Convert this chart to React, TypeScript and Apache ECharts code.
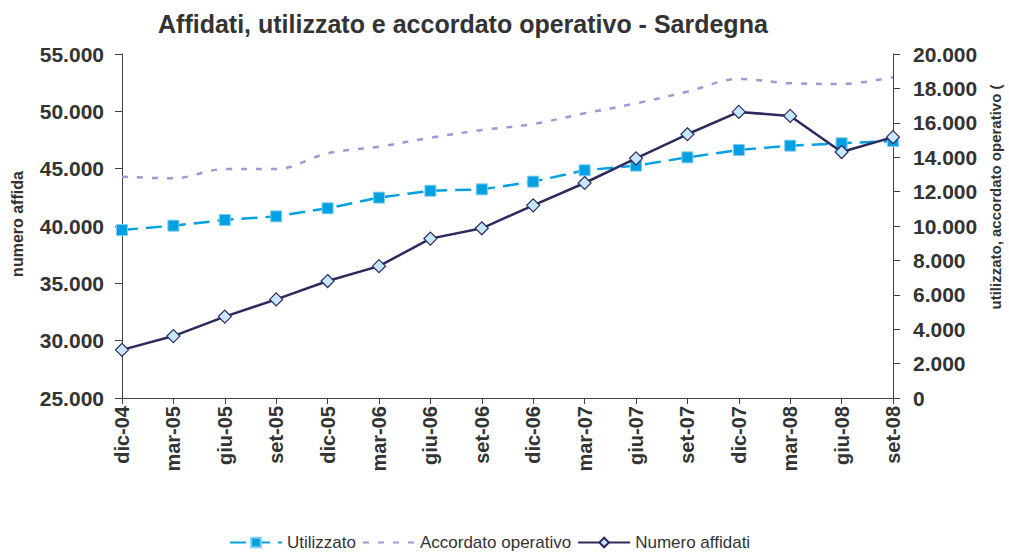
import React, { useEffect, useRef } from "react";
import * as echarts from "echarts";

const categories = ["dic-04", "mar-05", "giu-05", "set-05", "dic-05", "mar-06", "giu-06", "set-06", "dic-06", "mar-07", "giu-07", "set-07", "dic-07", "mar-08", "giu-08", "set-08"];
const numeroAffidati = [29200, 30400, 32100, 33600, 35200, 36500, 38900, 39800, 41800, 43750, 45900, 48000, 49950, 49600, 46450, 47750];
const utilizzato = [9770, 10020, 10350, 10560, 11030, 11650, 12050, 12130, 12580, 13240, 13510, 13990, 14420, 14670, 14810, 14940];
const accordatoOperativo = [12870, 12770, 13310, 13310, 14230, 14610, 15130, 15580, 15930, 16550, 17130, 17810, 18550, 18300, 18260, 18650];

const titleText = "Affidati, utilizzato e accordato operativo - Sardegna";
const leftAxisName = "numero affida";
const rightAxisName = "utilizzato, accordato operativo (";

const FONT = "'Liberation Sans', Arial, sans-serif";
const TEXT = "#333333";
const AXIS = "#404040";

function fmt(v: number): string {
  return String(Math.round(v)).replace(/\B(?=(\d{3})+(?!\d))/g, ".");
}

export default function App() {
  const ref = useRef<HTMLDivElement>(null);
  useEffect(() => {
    document.body.style.margin = "0";
    if (!ref.current) return;
    const chart = echarts.init(ref.current, null, { renderer: "svg" });
    chart.setOption({
      animation: false,
      backgroundColor: "#ffffff",
      textStyle: { fontFamily: FONT },
      title: {
        text: titleText,
        left: 153,
        top: 6,
        textStyle: { fontFamily: FONT, fontSize: 25, fontWeight: "bold", color: TEXT },
      },
      legend: {
        top: 529,
        left: 224,
        itemWidth: 52,
        itemHeight: 12,
        itemGap: 6,
        textStyle: { fontFamily: FONT, fontSize: 17, color: TEXT },
        data: ["Utilizzato", "Accordato operativo", "Numero affidati"],
      },
      grid: { left: 122, right: 116, top: 54, bottom: 154, containLabel: false },
      xAxis: {
        type: "category",
        data: categories,
        boundaryGap: false,
        axisLine: { lineStyle: { color: AXIS, width: 1 } },
        axisTick: { show: true, length: 6, lineStyle: { color: AXIS } },
        axisLabel: { rotate: 90, margin: 8, fontFamily: FONT, fontSize: 20, fontWeight: "bold", color: TEXT },
        splitLine: { show: false },
      },
      yAxis: [
        {
          type: "value",
          min: 25000,
          max: 55000,
          interval: 5000,
          position: "left",
          axisLine: { show: true, lineStyle: { color: AXIS } },
          axisTick: { show: true, length: 7, lineStyle: { color: AXIS } },
          axisLabel: { margin: 18, fontFamily: FONT, fontSize: 21, fontWeight: "bold", color: TEXT, formatter: (v: number) => fmt(v) },
          splitLine: { show: false },
        },
        {
          type: "value",
          min: 0,
          max: 20000,
          interval: 2000,
          position: "right",
          axisLine: { show: true, lineStyle: { color: AXIS } },
          axisTick: { show: true, length: 7, lineStyle: { color: AXIS } },
          axisLabel: { margin: 20, fontFamily: FONT, fontSize: 21, fontWeight: "bold", color: TEXT, formatter: (v: number) => fmt(v) },
          splitLine: { show: false },
        },
      ],
      graphic: [
        {
          type: "text",
          x: 17,
          y: 224,
          rotation: Math.PI / 2,
          style: { text: leftAxisName, font: `bold 16px ${FONT}`, fill: TEXT, align: "center", verticalAlign: "middle" },
        },
        {
          type: "text",
          x: 995,
          y: 197,
          rotation: Math.PI / 2,
          style: { text: rightAxisName, font: `bold 15px ${FONT}`, fill: TEXT, align: "center", verticalAlign: "middle" },
        },
      ],
      series: [
        {
          name: "Utilizzato",
          type: "line",
          yAxisIndex: 1,
          data: utilizzato,
          symbol: "rect",
          symbolSize: 11,
          lineStyle: { color: "#00A0E2", width: 2.5, type: [16, 8] },
          itemStyle: { color: "#00A0E2", borderColor: "#7FCCF0", borderWidth: 1 },
          z: 3,
        },
        {
          name: "Accordato operativo",
          type: "line",
          yAxisIndex: 1,
          data: accordatoOperativo,
          smooth: 0.35,
          symbol: "none",
          lineStyle: { color: "#A097D4", width: 2.5, type: [6, 9] },
          itemStyle: { color: "#A097D4", opacity: 0 },
          z: 2,
        },
        {
          name: "Numero affidati",
          type: "line",
          yAxisIndex: 0,
          data: numeroAffidati,
          symbol: "diamond",
          symbolSize: 13,
          lineStyle: { color: "#2C2A5E", width: 2.5 },
          itemStyle: { color: "#C7E7FA", borderColor: "#2C2A5E", borderWidth: 1.2 },
          z: 4,
        },
      ],
    });
    return () => chart.dispose();
  }, []);
  return <div ref={ref} style={{ width: 1009, height: 552 }} />;
}
